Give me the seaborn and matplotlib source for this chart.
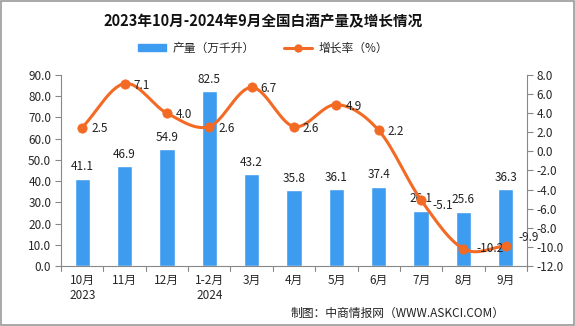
import numpy as np
import pandas as pd
import matplotlib
matplotlib.use("Agg")
import matplotlib.pyplot as plt
import seaborn as sns
from matplotlib.lines import Line2D
from matplotlib.patches import Patch, Rectangle

categories = ["10月\n2023", "11月", "12月", "1-2月\n2024", "3月", "4月", "5月", "6月", "7月", "8月", "9月"]
production = [41.1, 46.9, 54.9, 82.5, 43.2, 35.8, 36.1, 37.4, 26.1, 25.6, 36.3]
growth = [2.5, 7.1, 4.0, 2.6, 6.7, 2.6, 4.9, 2.2, -5.1, -10.2, -9.9]

sns.set_theme(style="white")
plt.rcParams['font.family'] = ['Noto Sans CJK SC', 'DejaVu Sans']
plt.rcParams['axes.unicode_minus'] = False

BAR = "#3E9CF0"
LINE = "#F26A24"
AXC = "#888888"

fig = plt.figure(figsize=(5.75, 3.26), dpi=100)
ax = fig.add_axes([61/575, (326-266)/326, (527-61)/575, (266-75)/326])

df = pd.DataFrame({"cat": categories, "prod": production, "growth": growth})
sns.barplot(data=df, x="cat", y="prod", color=BAR, width=0.36, saturation=1, ax=ax)
ax.set_ylim(0, 90)
ax.set_yticks(np.arange(0, 91, 10))
ax.set_yticklabels([f"{v:.1f}" for v in np.arange(0, 91, 10)], fontsize=8.5)
ax.set_xlim(-0.5, len(categories) - 0.5)
ax.set_xlabel("")
ax.set_ylabel("")
ax.tick_params(axis='x', length=0, labelsize=8.5, pad=6)
ax.tick_params(axis='y', length=4, color=AXC, width=0.8, pad=3)
for i, v in enumerate(production):
    ax.text(i, v + 2.5, f"{v:.1f}", ha="center", va="bottom", fontsize=8.5, color="#222222")
# category boundary ticks on x axis
for b in np.arange(-0.5, len(categories), 1.0):
    ax.plot([b, b], [0, -2.2], color=AXC, lw=0.8, clip_on=False)

for s in ["top", "right"]:
    ax.spines[s].set_visible(False)
for s in ["left", "bottom"]:
    ax.spines[s].set_color(AXC)
    ax.spines[s].set_linewidth(0.8)

ax2 = ax.twinx()
ax2.set_ylim(-12, 8)
ax2.set_yticks(np.arange(-12, 9, 2))
ax2.set_yticklabels([f"{v:.1f}" for v in np.arange(-12, 9, 2)], fontsize=8.5)
ax2.tick_params(axis='y', length=4, color=AXC, width=0.8, pad=3)
for s in ["top", "left", "bottom"]:
    ax2.spines[s].set_visible(False)
ax2.spines["right"].set_color(AXC)
ax2.spines["right"].set_linewidth(0.8)

# smooth curve through the data points (cubic Hermite, Catmull-Rom tangents)
x = np.arange(len(growth), dtype=float)
y = np.array(growth, dtype=float)
n = len(y)
m = np.zeros(n)
for i in range(n):
    if i == 0:
        m[i] = y[1] - y[0]
    elif i == n - 1:
        m[i] = y[-1] - y[-2]
    else:
        m[i] = 0.5 * (y[i + 1] - y[i - 1])
xs, ys = [], []
t = np.linspace(0, 1, 30)
h00 = 2*t**3 - 3*t**2 + 1
h10 = t**3 - 2*t**2 + t
h01 = -2*t**3 + 3*t**2
h11 = t**3 - t**2
for i in range(n - 1):
    xs.extend(x[i] + t)
    ys.extend(h00*y[i] + h10*m[i] + h01*y[i+1] + h11*m[i+1])
ax2.plot(xs, ys, color=LINE, lw=2.2, solid_capstyle="round")
sns.scatterplot(x=x, y=y, color=LINE, s=45, edgecolor=LINE, ax=ax2, zorder=5, legend=False)
for i, v in enumerate(growth):
    dx, dy = 0.21, -0.15
    if i == 8:
        dx, dy = 0.26, -0.6
    if i == 9:
        dx, dy = 0.3, 0.0
    if i == n - 1:
        dx, dy = 0.3, 0.9
    ax2.text(i + dx, v + dy, f"{v:.1f}", ha="left", va="center", fontsize=8.5, color="#222222")

CX = 263 / 575
fig.text(CX, 1 - 21/326, "2023年10月-2024年9月全国白酒产量及增长情况", ha="center", va="center",
         fontsize=10.5, fontweight="bold", color="#111111")

handles = [Patch(facecolor=BAR, edgecolor=BAR, label="产量（万千升）"),
           Line2D([0], [0], color=LINE, lw=2.2, marker="o", markersize=5, label="增长率（%）")]
fig.legend(handles=handles, loc="center", bbox_to_anchor=(CX, 1 - 48/326), ncol=2, frameon=False,
           fontsize=8.5, handlelength=2.4, handleheight=0.6, columnspacing=2.5, handletextpad=0.5)

fig.text(505/575, 1 - 313/326, "制图：中商情报网（WWW.ASKCI.COM）", ha="right", va="center",
         fontsize=8.5, color="#222222")

fig.patches.append(Rectangle((0.001, 0.002), 0.997, 0.995, transform=fig.transFigure,
                             fill=False, edgecolor="#999999", lw=1.2))

fig.savefig("out.png", dpi=100)
